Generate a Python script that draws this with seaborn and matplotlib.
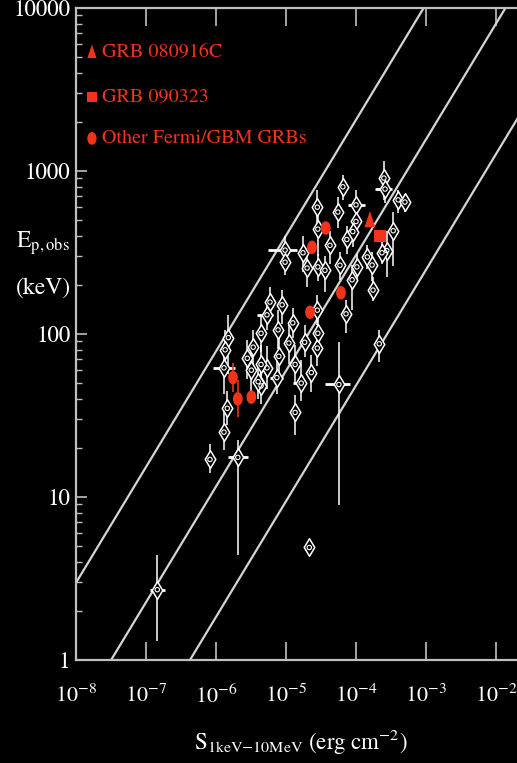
import numpy as np
import pandas as pd
import matplotlib
matplotlib.use("Agg")
import matplotlib.pyplot as plt
import seaborn as sns
from matplotlib.path import Path
from matplotlib.transforms import Affine2D
from matplotlib.ticker import FixedLocator, FixedFormatter, LogLocator, NullLocator

# ---- comparison sample: fluence (erg cm^-2) and observed peak energy (keV) ----
fluence = [1.45e-7, 2.15e-5, 8.2e-7, 2.05e-6, 1.3e-6, 1.45e-6, 1.35e-5, 5.7e-5,
           2.15e-4, 1.65e-5, 2.3e-5, 2.8e-5, 2.85e-5, 7.2e-5, 1.35e-5, 1.1e-5,
           7.9e-6, 7.4e-6, 5.35e-6, 4.4e-6, 4.4e-6, 4.4e-6, 3.4e-6, 2.8e-6,
           5.35e-6, 7.7e-6, 8.8e-6, 5.9e-6, 1.5e-6, 1.35e-6, 1.3e-6, 1.85e-5,
           2.8e-5, 3.2e-6, 4.0e-6, 2.5e-4, 2.6e-4, 6.5e-5, 4.0e-4, 5.0e-4,
           1.0e-4, 1.0e-4, 2.8e-5, 5.5e-5, 2.85e-5, 4.25e-5, 7.4e-5, 9.0e-5,
           1.45e-4, 1.7e-4, 1.75e-4, 2.75e-4, 3.4e-4, 2.35e-4, 1.75e-5, 9.7e-6,
           9.7e-6, 2.0e-5, 2.85e-5, 3.6e-5, 8.8e-5, 5.9e-5, 1.03e-4, 1.25e-5]
ep = [2.7, 4.9, 17, 17.5, 25, 35, 33, 49,
      87, 50, 58, 82, 101, 133, 65, 88,
      73, 54, 62, 101, 65, 48, 83, 71,
      131, 106, 151, 157, 95, 80, 62, 89,
      140, 60, 51, 905, 775, 800, 665, 645,
      620, 490, 600, 560, 440, 350, 380, 425,
      297, 265, 186, 325, 430, 315, 315, 327,
      276, 254, 258, 246, 215, 264, 258, 117]
ep_lo = [1.3, np.nan, 14, 4.4, 19.5, 27.5, 24, 8.9,
         67, 39, 44, 64, 85, 101, 50, 65,
         52, 43, 46, 78, 47, 37, 62, 53,
         106, 81, 115, 120, 57, 57, 43, 72,
         113, 43, 40, 665, 640, 665, 550, 560,
         420, 400, 440, 450, 300, 270, 310, 340,
         250, 210, 160, 225, 260, 270, 240, 265,
         230, 195, 210, 180, 140, 215, 210, 95]
ep_hi = [4.4, np.nan, 21, 22.5, 34, 45, 42, 89,
         106, 69, 74, 100, 125, 162, 86, 113,
         106, 69, 85, 130, 86, 62, 106, 92,
         162, 140, 185, 195, 130, 106, 86, 113,
         173, 78, 64, 1150, 900, 950, 770, 720,
         760, 580, 760, 690, 560, 430, 460, 500,
         350, 320, 225, 430, 560, 370, 400, 400,
         330, 320, 310, 300, 265, 320, 310, 145]
fluence_lo = [1.15e-7, np.nan, np.nan, 1.5e-6, np.nan, np.nan, np.nan, 3.6e-5,
              np.nan, 1.26e-5, np.nan, np.nan, np.nan, np.nan, np.nan, np.nan,
              np.nan, 5.9e-6, np.nan, np.nan, np.nan, np.nan, np.nan, np.nan,
              3.9e-6, np.nan, np.nan, np.nan, 1.3e-6, np.nan, 9.0e-7, np.nan,
              np.nan, np.nan, np.nan, np.nan, 1.85e-4, np.nan, 3.4e-4, np.nan,
              7.7e-5, np.nan, np.nan, np.nan, np.nan, np.nan, np.nan, np.nan,
              np.nan, np.nan, np.nan, np.nan, np.nan, np.nan, np.nan, 5.5e-6,
              np.nan, np.nan, np.nan, np.nan, np.nan, np.nan, np.nan, np.nan]
fluence_hi = [1.85e-7, np.nan, np.nan, 2.85e-6, np.nan, np.nan, np.nan, 8.2e-5,
              np.nan, 1.86e-5, np.nan, np.nan, np.nan, np.nan, np.nan, np.nan,
              np.nan, 9.0e-6, np.nan, np.nan, np.nan, np.nan, np.nan, np.nan,
              6.5e-6, np.nan, np.nan, np.nan, 1.75e-6, np.nan, 1.85e-6, np.nan,
              np.nan, np.nan, np.nan, np.nan, 3.25e-4, np.nan, 4.4e-4, np.nan,
              1.35e-4, np.nan, np.nan, np.nan, np.nan, np.nan, np.nan, np.nan,
              np.nan, np.nan, np.nan, np.nan, np.nan, np.nan, np.nan, 1.45e-5,
              np.nan, np.nan, np.nan, np.nan, np.nan, np.nan, np.nan, np.nan]

# ---- Fermi/GBM bursts ----
gbm_fluence = [1.75e-6, 2.05e-6, 3.2e-6, 2.2e-5, 6.1e-5, 2.35e-5, 3.7e-5]
gbm_ep = [54, 40, 41, 136, 179, 340, 447]
gbm_ep_lo = [44, 31, np.nan, np.nan, np.nan, np.nan, np.nan]
gbm_ep_hi = [66, 52, np.nan, np.nan, np.nan, np.nan, np.nan]
grb080916c_fluence = [1.58e-4]
grb080916c_ep = [500]
grb090323_fluence = [2.2e-4]
grb090323_ep = [400]

legend_labels = ["GRB 080916C", "GRB 090323", "Other Fermi/GBM GRBs"]

# Ep-fluence relation: log Ep = slope*log S + norm, with a band of +/- width dex
rel_slope = 0.71
rel_norm = 5.324
rel_width = [0.83, 0.0, -0.80]

x_ticks = [1e-8, 1e-7, 1e-6, 1e-5, 1e-4, 1e-3, 1e-2]
x_ticklabels = [r"$10^{-8}$", r"$10^{-7}$", r"$10^{-6}$", r"$10^{-5}$",
                r"$10^{-4}$", r"$10^{-3}$", r"$10^{-2}$"]
y_ticks = [1, 10, 100, 1000, 10000]
y_ticklabels = ["1", "10", "100", "1000", "10000"]

# ---------------------------------------------------------------------------
sns.set_style("ticks")
plt.rcParams["font.family"] = ["STIXGeneral", "DejaVu Serif"]
plt.rcParams["mathtext.fontset"] = "stix"

FG = "#d4d4d4"
RED = "#f2331a"
W, H = 517, 763

fig = plt.figure(figsize=(W / 100, H / 100), dpi=100, facecolor="black")
ax_left, ax_right, ax_top, ax_bottom = 76, 531, 8, 660
ax = fig.add_axes([ax_left / W, 1 - ax_bottom / H,
                   (ax_right - ax_left) / W, (ax_bottom - ax_top) / H])
ax.set_facecolor("black")
ax.set_xscale("log")
ax.set_yscale("log")
ax.set_xlim(1e-8, 10 ** (-8 + (ax_right - ax_left) / 70))
ax.set_ylim(1, 1e4)

# relation and its band
s_grid = np.logspace(-9, 0, 50)
for dw in rel_width:
    line_df = pd.DataFrame({"S": s_grid,
                            "E": 10 ** (rel_slope * np.log10(s_grid) + rel_norm + dw)})
    sns.lineplot(data=line_df, x="S", y="E", ax=ax, color=FG, lw=1.6,
                 zorder=2, legend=False)

df = pd.DataFrame({"S": fluence, "E": ep, "Elo": ep_lo, "Ehi": ep_hi,
                   "Slo": fluence_lo, "Shi": fluence_hi})

vm = df["Elo"].notna()
ax.errorbar(df.loc[vm, "S"], df.loc[vm, "E"],
            yerr=[df.loc[vm, "E"] - df.loc[vm, "Elo"], df.loc[vm, "Ehi"] - df.loc[vm, "E"]],
            fmt="none", ecolor="white", elinewidth=1.1, capsize=0, zorder=3)
hm = df["Slo"].notna()
ax.errorbar(df.loc[hm, "S"], df.loc[hm, "E"],
            xerr=[df.loc[hm, "S"] - df.loc[hm, "Slo"], df.loc[hm, "Shi"] - df.loc[hm, "S"]],
            fmt="none", ecolor="white", elinewidth=2.0, capsize=0, zorder=3)

sns.scatterplot(data=df, x="S", y="E", ax=ax, marker="d", s=80,
                facecolor="black", edgecolor="white", linewidth=1.1, zorder=4)
sns.scatterplot(data=df, x="S", y="E", ax=ax, marker="o", s=10,
                facecolor="none", edgecolor="white", linewidth=0.8, zorder=5)

# GBM bursts
gdf = pd.DataFrame({"S": gbm_fluence, "E": gbm_ep, "Elo": gbm_ep_lo, "Ehi": gbm_ep_hi})
gm = gdf["Elo"].notna()
ax.errorbar(gdf.loc[gm, "S"], gdf.loc[gm, "E"],
            yerr=[gdf.loc[gm, "E"] - gdf.loc[gm, "Elo"], gdf.loc[gm, "Ehi"] - gdf.loc[gm, "E"]],
            fmt="none", ecolor=RED, elinewidth=1.2, capsize=0, zorder=5)

oval = Path.unit_circle().transformed(Affine2D().scale(0.72, 1.0))
tall_tri = Path([(0, 1), (-0.6, -0.8), (0.6, -0.8), (0, 1)],
                [Path.MOVETO, Path.LINETO, Path.LINETO, Path.CLOSEPOLY])

sns.scatterplot(x=gbm_fluence, y=gbm_ep, ax=ax, marker=oval, s=95,
                color=RED, edgecolor="none", zorder=6)
sns.scatterplot(x=grb080916c_fluence, y=grb080916c_ep, ax=ax, marker=tall_tri,
                s=170, color=RED, edgecolor="none", zorder=6)
sns.scatterplot(x=grb090323_fluence, y=grb090323_ep, ax=ax, marker="s", s=70,
                color=RED, edgecolor="none", zorder=6)

# legend drawn in axes fraction
leg_x_marker, leg_x_text = 0.035, 0.058
leg_rows = [0.9325, 0.8635, 0.800]
leg_markers = [(tall_tri, 120), ("s", 55), (oval, 85)]
for (mk, sz), yy, lab in zip(leg_markers, leg_rows, legend_labels):
    ax.scatter([leg_x_marker], [yy], transform=ax.transAxes, marker=mk, s=sz,
               color=RED, edgecolor="none", zorder=7, clip_on=False)
    ax.text(leg_x_text, yy, lab, transform=ax.transAxes, color=RED,
            fontsize=14.5, va="center", ha="left", zorder=7)

# axes styling
for side in ["left", "bottom", "top"]:
    ax.spines[side].set_color("#bfbfbf")
    ax.spines[side].set_linewidth(1.6)
ax.spines["right"].set_visible(False)

ax.xaxis.set_major_locator(FixedLocator(x_ticks))
ax.xaxis.set_major_formatter(FixedFormatter(x_ticklabels))
ax.xaxis.set_minor_locator(NullLocator())
ax.yaxis.set_major_locator(FixedLocator(y_ticks))
ax.yaxis.set_major_formatter(FixedFormatter(y_ticklabels))
ax.yaxis.set_minor_locator(LogLocator(base=10, subs=np.arange(2, 10)))

ax.tick_params(axis="x", which="major", direction="in", length=13, width=1.2,
               color="#bfbfbf", top=True, bottom=True, labelsize=16,
               labelcolor="white", pad=18)
ax.tick_params(axis="y", which="major", direction="in", length=8, width=1.2,
               color="#bfbfbf", left=True, right=False, labelsize=16.5,
               labelcolor="white", pad=4)
ax.tick_params(axis="y", which="minor", direction="in", length=4, width=1.0,
               color="#bfbfbf", left=True, right=False)
ax.set_xlabel("")
ax.set_ylabel("")

fig.text(43 / W, 1 - 243 / H, r"$\mathrm{E_{p,obs}}$", color="white",
         fontsize=17, ha="center", va="center")
fig.text(43 / W, 1 - 288 / H, "(keV)", color="white", fontsize=17,
         ha="center", va="center")
fig.text(301 / W, 1 - 741 / H, r"$\mathrm{S_{1keV{-}10MeV}\ (erg\ cm^{-2})}$",
         color="white", fontsize=16.5, ha="center", va="center")

fig.savefig("out.png", dpi=100, facecolor="black")
